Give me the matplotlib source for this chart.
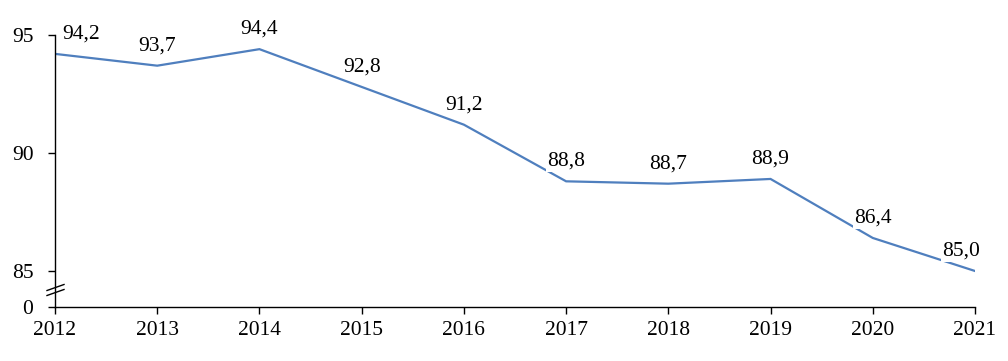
import matplotlib
matplotlib.use("Agg")
import matplotlib.pyplot as plt
from matplotlib.lines import Line2D

years = [2012, 2013, 2014, 2015, 2016, 2017, 2018, 2019, 2020, 2021]
values = [94.2, 93.7, 94.4, 92.8, 91.2, 88.8, 88.7, 88.9, 86.4, 85.0]
ytick_vals = [85, 90, 95]
ytick_labels = ["85", "90", "95"]
zero_label = "0"

plt.rcParams['font.family'] = ['Liberation Serif', 'DejaVu Serif']

W, H = 1008, 361
fig = plt.figure(figsize=(W / 100, H / 100), dpi=100)
left, right, top, bottom = 55, 975, 35, 307
ax = fig.add_axes([left / W, (H - bottom) / H, (right - left) / W, (bottom - top) / H])

color = '#4F7FBE'
x = list(range(len(years)))
ax.plot(x, values, color=color, lw=1.6, zorder=2, solid_joinstyle='miter')

# axis scale: 95 at top px 35, 85 at px 271, "0" at px 307
px_per_unit = (271 - 35) / 10.0
ybottom = 85 - (307 - 271) / px_per_unit
ax.set_ylim(ybottom, 95)
ax.set_xlim(0, len(years) - 1)

ax.set_yticks([ybottom] + ytick_vals)
ax.set_yticklabels([zero_label] + ytick_labels)
ax.set_xticks(x)
ax.set_xticklabels([str(y) for y in years])

for s in ['top', 'right']:
    ax.spines[s].set_visible(False)
for s in ['left', 'bottom']:
    ax.spines[s].set_linewidth(1.0)
    ax.spines[s].set_color('black')
ax.tick_params(axis='y', direction='out', length=5, width=1.0, pad=10.5, labelsize=15.5)
ax.tick_params(axis='x', direction='out', length=5, width=1.0, pad=5, labelsize=15.5)

# data labels
dx = [19, 0, 0, 0, 0, 0, 0, 0, 0, -10]
for i, v in enumerate(values):
    ax.annotate(f"{v:.1f}".replace('.', ','), (x[i], v), xytext=(dx[i], 11),
                textcoords='offset points', ha='center', va='baseline', fontsize=15.5,
                annotation_clip=False, zorder=3,
                bbox=dict(boxstyle='square,pad=0.05', fc='white', ec='none'))

# axis break marks
ybreak = 85 - (290 - 271) / px_per_unit
for off in (-2.5, 2.5):
    yb = ybreak + off / px_per_unit
    ax.add_line(Line2D([-8 / 102.2, 9 / 102.2], [yb - 3 / px_per_unit, yb + 3 / px_per_unit],
                       transform=ax.transData, color='black', lw=1.0, clip_on=False, zorder=5))

fig.savefig('out.png', dpi=100)
